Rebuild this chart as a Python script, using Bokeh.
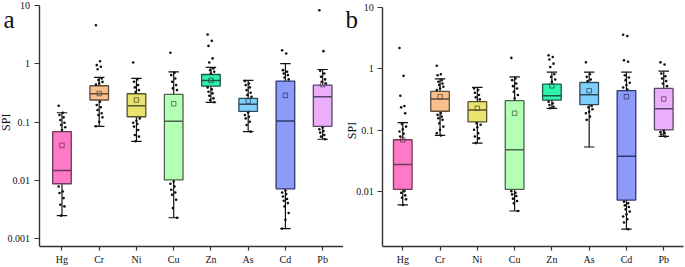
from bokeh.plotting import figure
from bokeh.layouts import row
from bokeh.models import FixedTicker, Label, Range1d
from bokeh.embed import file_html
from bokeh.resources import INLINE
import math

elements = ["Hg", "Cr", "Ni", "Cu", "Zn", "As", "Cd", "Pb"]
y_tick_values = [0.001, 0.01, 0.1, 1, 10]
y_tick_labels = ["0.001", "0.01", "0.1", "1", "10"]

fill_colors = ["#FF7AC6", "#F9BF8D", "#E9E46F", "#B3FFB3", "#2EF3AA", "#80CEFA", "#8C9BF7", "#EBAEFA"]
edge_colors = ["#6E3A58", "#5E4D3E", "#55522C", "#4A634A", "#1F5644", "#2E4A60", "#2E3570", "#5A4468"]

# ---- panel a ----
a_q1 = [0.0088, 0.240, 0.124, 0.0103, 0.416, 0.153, 0.0072, 0.085]
a_med = [0.0148, 0.307, 0.192, 0.1035, 0.520, 0.202, 0.105, 0.273]
a_q3 = [0.0689, 0.421, 0.307, 0.299, 0.657, 0.256, 0.506, 0.432]
a_lo = [0.0025, 0.085, 0.047, 0.0023, 0.219, 0.069, 0.0015, 0.051]
a_hi = [0.145, 0.585, 0.562, 0.731, 0.867, 0.52, 1.01, 0.80]
a_mean = [0.040, 0.31, 0.24, 0.207, 0.52, 0.230, 0.288, 0.44]

a_pts_Hg = [0.191, 0.145, 0.133, 0.121, 0.109, 0.098, 0.0895, 0.0817, 0.0736, 0.0079, 0.0065, 0.0061, 0.0050, 0.00385, 0.0036, 0.0025]
a_pts_Cr = [4.59, 1.11, 0.95, 0.89, 0.81, 0.56, 0.53, 0.49, 0.46, 0.44, 0.224, 0.197, 0.180, 0.162, 0.142, 0.133, 0.121, 0.102, 0.085]
a_pts_Ni = [1.055, 0.541, 0.493, 0.432, 0.395, 0.355, 0.328, 0.116, 0.106, 0.098, 0.093, 0.084, 0.0736, 0.0604, 0.0566, 0.047]
a_pts_Cu = [1.55, 0.703, 0.641, 0.562, 0.493, 0.432, 0.379, 0.355, 0.00964, 0.00879, 0.00791, 0.00694, 0.00625, 0.0057, 0.00468, 0.00337, 0.0023]
a_pts_Zn = [3.18, 2.48, 2.03, 1.24, 1.055, 0.834, 0.780, 0.731, 0.684, 0.395, 0.365, 0.333, 0.312, 0.284, 0.256, 0.240, 0.219]
a_pts_As = [0.506, 0.461, 0.432, 0.395, 0.355, 0.320, 0.292, 0.273, 0.146, 0.133, 0.124, 0.116, 0.102, 0.0895, 0.069]
a_pts_Cd = [1.71, 1.50, 0.780, 0.731, 0.684, 0.641, 0.585, 0.541, 0.00676, 0.00625, 0.00585, 0.00533, 0.00481, 0.0045, 0.0041, 0.0036, 0.00277, 0.00213, 0.0015]
a_pts_Pb = [8.28, 1.65, 0.760, 0.684, 0.600, 0.541, 0.493, 0.461, 0.0807, 0.0756, 0.0708, 0.0663, 0.0604, 0.0566, 0.051]

# ---- panel b ----
b_q1 = [0.01097, 0.204, 0.137, 0.01097, 0.310, 0.261, 0.00738, 0.102]
b_med = [0.0278, 0.322, 0.214, 0.0485, 0.365, 0.379, 0.0379, 0.225]
b_q3 = [0.0703, 0.428, 0.292, 0.303, 0.562, 0.598, 0.440, 0.479]
b_lo = [0.00614, 0.0826, 0.0621, 0.0049, 0.228, 0.0536, 0.00248, 0.0796]
b_hi = [0.1337, 0.686, 0.497, 0.738, 0.879, 0.879, 0.879, 0.912]
b_mean = [0.07, 0.351, 0.228, 0.189, 0.528, 0.440, 0.351, 0.322]

b_pts_Hg = [2.17, 0.767, 0.365, 0.248, 0.236, 0.189, 0.127, 0.115, 0.104, 0.0957, 0.0879, 0.0796, 0.0103, 0.0097, 0.0088, 0.00806, 0.00757, 0.00614]
b_pts_Cr = [1.12, 0.815, 0.785, 0.653, 0.614, 0.577, 0.542, 0.509, 0.479, 0.450, 0.189, 0.178, 0.167, 0.157, 0.148, 0.130, 0.115, 0.102, 0.090, 0.0826]
b_pts_Ni = [0.479, 0.450, 0.407, 0.374, 0.343, 0.318, 0.130, 0.123, 0.112, 0.102, 0.090, 0.0796, 0.0739, 0.0621]
b_pts_Cu = [1.50, 0.695, 0.653, 0.577, 0.522, 0.479, 0.423, 0.374, 0.330, 0.0103, 0.0097, 0.00912, 0.00857, 0.00777, 0.00712, 0.00653, 0.0049]
b_pts_Zn = [1.65, 1.55, 1.41, 1.21, 1.07, 0.815, 0.738, 0.668, 0.614, 0.292, 0.274, 0.258, 0.242, 0.228]
b_pts_As = [1.27, 0.815, 0.738, 0.668, 0.63, 0.248, 0.236, 0.220, 0.201, 0.189, 0.167, 0.148]
b_pts_Cd = [3.56, 3.41, 1.37, 1.30, 0.785, 0.721, 0.653, 0.591, 0.542, 0.497, 0.461, 0.00695, 0.00653, 0.00605, 0.00569, 0.00522, 0.00479, 0.00434, 0.00398, 0.00361, 0.00319, 0.00248]
b_pts_Pb = [1.27, 1.17, 0.836, 0.757, 0.695, 0.630, 0.577, 0.522, 0.0981, 0.0934, 0.090, 0.0857, 0.0796]

a_points = [a_pts_Hg, a_pts_Cr, a_pts_Ni, a_pts_Cu, a_pts_Zn, a_pts_As, a_pts_Cd, a_pts_Pb]
b_points = [b_pts_Hg, b_pts_Cr, b_pts_Ni, b_pts_Cu, b_pts_Zn, b_pts_As, b_pts_Cd, b_pts_Pb]

FONT = "Liberation Serif"
BOX_W = 0.5
CAP_W = 0.28


def make_panel(letter, q1, med, q3, lo, hi, mean, points, width, right, bottom,
               x_view, x_axis_at, x_end, y_low, y_view_top, y_axis_top, letter_xy, spi_xy):
    p = figure(width=width, height=267, y_axis_type="log",
               x_range=Range1d(x_view, x_end), y_range=Range1d(y_low, y_view_top),
               output_backend="svg", toolbar_location=None,
               min_border_left=0, min_border_right=right,
               min_border_top=0, min_border_bottom=bottom)
    p.outline_line_color = None
    p.xgrid.visible = False
    p.ygrid.visible = False
    p.background_fill_color = "white"
    p.border_fill_color = "white"

    xs = list(range(1, len(elements) + 1))

    ticks = [t for t in y_tick_values if y_low <= t <= y_axis_top]
    p.yaxis.ticker = FixedTicker(ticks=ticks, minor_ticks=[])
    p.yaxis.major_label_overrides = {t: l for t, l in zip(y_tick_values, y_tick_labels)}
    p.yaxis.fixed_location = x_axis_at
    p.yaxis.bounds = (y_low, y_axis_top)
    p.xaxis.ticker = FixedTicker(ticks=xs, minor_ticks=[])
    p.xaxis.major_label_overrides = {x: e for x, e in zip(xs, elements)}
    p.xaxis.bounds = (x_axis_at, x_end)

    for ax in (p.xaxis[0], p.yaxis[0]):
        ax.axis_line_color = "#333333"
        ax.axis_line_width = 1.4
        ax.major_tick_line_color = "#333333"
        ax.major_tick_line_width = 1.2
        ax.major_tick_in = 0
        ax.minor_tick_line_color = None
        ax.major_label_text_font = FONT
        ax.major_label_text_font_size = "10px"
        ax.major_label_text_color = "#111111"
    p.yaxis.major_tick_out = 5
    p.yaxis.major_label_standoff = 4
    p.xaxis.major_tick_out = 4
    p.xaxis.major_label_standoff = 3

    # whiskers
    p.segment(x0=xs, y0=lo, x1=xs, y1=q1, line_color="#111111", line_width=1.2)
    p.segment(x0=xs, y0=q3, x1=xs, y1=hi, line_color="#111111", line_width=1.2)
    p.segment(x0=[x - CAP_W / 2 for x in xs], y0=lo, x1=[x + CAP_W / 2 for x in xs], y1=lo,
              line_color="#111111", line_width=1.2)
    p.segment(x0=[x - CAP_W / 2 for x in xs], y0=hi, x1=[x + CAP_W / 2 for x in xs], y1=hi,
              line_color="#111111", line_width=1.2)

    # boxes
    p.vbar(x=xs, width=BOX_W, bottom=q1, top=q3, fill_color=fill_colors,
           line_color=edge_colors, line_width=1.3)
    p.segment(x0=[x - BOX_W / 2 for x in xs], y0=med, x1=[x + BOX_W / 2 for x in xs], y1=med,
              line_color=edge_colors, line_width=1.5)

    # jittered points (deterministic spread)
    px, py = [], []
    for x, vals in zip(xs, points):
        for k, v in enumerate(vals):
            px.append(x + ((k * 5) % 9 - 4) * 0.022)
            py.append(v)
    p.scatter(x=px, y=py, size=2.6, fill_color="#111111", line_color=None)

    # mean markers
    p.scatter(x=xs, y=mean, marker="square", size=4.5, fill_color=None,
              line_color=edge_colors, line_width=0.8)

    # panel letter and axis title (frame-relative screen units)
    p.add_layout(Label(x=letter_xy[0], y=letter_xy[1], x_units="screen", y_units="screen",
                       text=letter, text_font=FONT, text_font_size="25px", text_color="#111111",
                       text_baseline="alphabetic", text_align="left"))
    p.add_layout(Label(x=spi_xy[0], y=spi_xy[1], x_units="screen", y_units="screen", text="SPI",
                       angle=math.pi / 2, text_font=FONT, text_font_size="12px",
                       text_color="#111111", text_align="center", text_baseline="middle"))
    return p


pa = make_panel("a", a_q1, a_med, a_q3, a_lo, a_hi, a_mean, a_points,
                width=343, right=0, bottom=20,
                x_view=-0.651, x_axis_at=0.383, x_end=8.56,
                y_low=0.00074, y_view_top=12.18, y_axis_top=10,
                letter_xy=(3, 226.7), spi_xy=(5.5, 124.2))
pb = make_panel("b", b_q1, b_med, b_q3, b_lo, b_hi, b_mean, b_points,
                width=342, right=2, bottom=19,
                x_view=-0.590, x_axis_at=0.464, x_end=8.53,
                y_low=0.0013, y_view_top=12.82, y_axis_top=10,
                letter_xy=(2, 226.7), spi_xy=(8.7, 116))

layout = row(pa, pb)
open("out.html", "w").write(file_html(layout, INLINE))
